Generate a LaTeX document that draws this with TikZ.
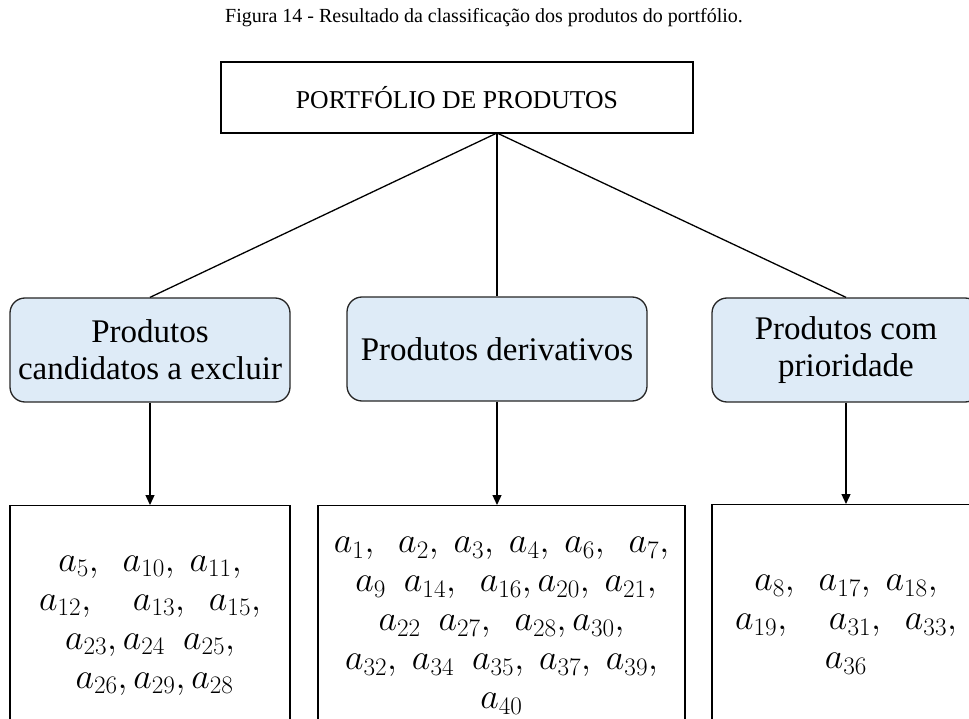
\documentclass[tikz,border=0pt]{standalone}
\usepackage{fix-cm}
\usepackage{amsmath}
\usepackage{fontspec}
\setmainfont{Liberation Serif}
\usetikzlibrary{positioning,arrows.meta}
\usepackage{xcolor}
\definecolor{catblue}{HTML}{DEEBF7}

\begin{document}
\begin{tikzpicture}[x=1pt, y=-1pt, line width=1.3pt,
		topbox/.style={draw, minimum width=472, minimum height=71, font=\fontsize{25.7}{30}\selectfont},
		catbox/.style={draw=black!85, fill=catblue, rounded corners=15pt, minimum height=104, align=center, font=\fontsize{33}{37}\selectfont},
		listbox/.style={draw, anchor=north, minimum height=240, align=center, font=\fontsize{36}{39}\selectfont},
		arr/.style={-{Triangle[length=10pt,width=9pt]}}]
			\clip (0,0) rectangle (969,719);
			% caption and root
			\node[font=\fontsize{20}{22}\selectfont] (cap) at (484,18) {Figura 14 - Resultado da classificação dos produtos do portfólio.};
			\node[topbox] (port) at (457,97.5) {PORTFÓLIO DE PRODUTOS};
			\coordinate (hub) at (497,133);
			\begin{scope}[every node/.style={catbox}]
				\node[minimum width=280] (excl) at (150,350) {Produtos\\candidatos a excluir};
				\node[minimum width=300] (deriv) at (497,349) {Produtos derivativos};
				\node[minimum width=268] (prio) at (846,350) {Produtos com\\prioridade};
			\end{scope}
			\begin{scope}[every node/.style={listbox}]
				\node[minimum width=280] (exclist) at (150,505)
					{$a_5,\ \ a_{10},\ a_{11},$\\
					 $a_{12},\quad a_{13},\ \ a_{15},$\\
					 $a_{23}, a_{24}\ \ a_{25},$\\
					 $\ a_{26}, a_{29}, a_{28}$};
				\node[minimum width=367] (derivlist) at (501.5,505)
					{$a_1,\ \ a_2,\ a_3,\ a_4,\ a_6,\ \ a_7,$\\
					 $\ a_9\ \ a_{14},\ \ a_{16}, a_{20},\ a_{21},$\\
					 $a_{22}\ \ a_{27},\ \ a_{28}, a_{30},$\\
					 $a_{32},\ a_{34}\ \ a_{35},\ a_{37},\ a_{39},$\\
					 $a_{40}$};
				\node[minimum width=268] (priolist) at (846,504)
					{$a_8,\ \ a_{17},\ a_{18},$\\
					 $a_{19},\quad a_{31},\ \ a_{33},$\\
					 $a_{36}$};
			\end{scope}
			\begin{scope}
				\path (hub)
					edge (excl.north)
					edge (deriv.north)
					edge (prio.north)
					;
				\path[arr] (excl.south) edge (exclist.north);
				\path[arr] (deriv.south) edge (deriv.south |- derivlist.north);
				\path[arr] (prio.south) edge (priolist.north);
			\end{scope}
		\end{tikzpicture}
\end{document}
